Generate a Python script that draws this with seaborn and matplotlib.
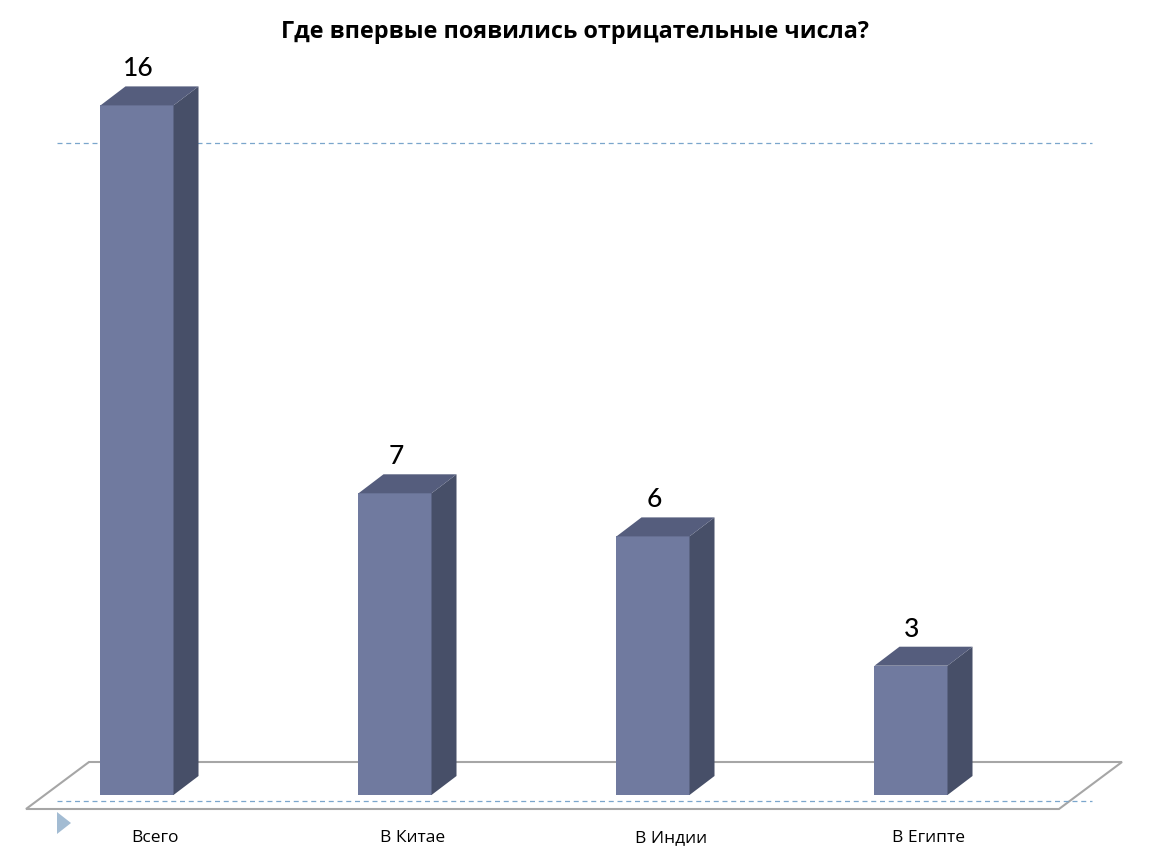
import matplotlib
matplotlib.use("Agg")
import matplotlib.pyplot as plt
import seaborn as sns
import pandas as pd
from matplotlib.patches import Polygon

categories = ["Всего", "В Китае", "В Индии", "В Египте"]
values = [16, 7, 6, 3]
title = "Где впервые появились отрицательные числа?"

FRONT = "#707a9f"
TOP = "#555d7d"
SIDE = "#474f68"

sns.set_theme(style="white")
plt.rcParams["font.family"] = ["Open Sans", "DejaVu Sans"]

fig = plt.figure(figsize=(11.5, 8.64), dpi=100)
ax = fig.add_axes([0, 0, 1, 1])

df = pd.DataFrame({"cat": categories, "val": values})
sns.barplot(data=df, x="cat", y="val", color=FRONT, saturation=1, width=0.283,
            ax=ax, zorder=3, linewidth=0)

PX_X = 258.0      # pixels per category step
PX_Y = 43.1       # pixels per value unit
ax.set_xlim(-137 / PX_X, (1150 - 137) / PX_X)
ax.set_ylim(-(864 - 795) / PX_Y, 795 / PX_Y)
ax.axis("off")

def px(xp, yp):
    return ((xp - 137) / PX_X, (795 - yp) / PX_Y)

# floor parallelogram
floor = [px(26, 809), px(89, 762), px(1122, 762), px(1059, 809)]
ax.add_patch(Polygon(floor, closed=True, fill=False, edgecolor="#a6a6a6",
                     linewidth=1.5, zorder=1))

# dashed gridlines
for yp in (143, 800.5):
    x0, y0 = px(57, yp)
    x1, _ = px(1092, yp)
    ax.plot([x0, x1], [y0, y0], linestyle=(0, (4, 3)), color="#7aa6cc",
            linewidth=0.9, zorder=2)

# 3D faces
dx = 25 / PX_X
dy = 19 / PX_Y
for p, v in zip(ax.patches[:len(values)], values):
    x = p.get_x(); w = p.get_width(); h = p.get_height()
    top = [(x, h), (x + dx, h + dy), (x + w + dx, h + dy), (x + w, h)]
    side = [(x + w, 0), (x + w, h), (x + w + dx, h + dy), (x + w + dx, dy)]
    ax.add_patch(Polygon(side, closed=True, facecolor=SIDE, edgecolor="none", zorder=3))
    ax.add_patch(Polygon(top, closed=True, facecolor=TOP, edgecolor="none", zorder=3))
    ax.text(x + w / 2 + 1 / PX_X, h + dy + 10 / PX_Y, f"{v}", ha="center", va="baseline",
            fontsize=19, family=["Lato", "DejaVu Sans"], fontweight="medium",
            color="black")

# category labels
for i, c in enumerate(categories):
    ax.text(i + 18 / PX_X, px(0, 838)[1], c, ha="center", va="center", fontsize=12.5,
            color="black")

# bullet triangle
tri = [px(57, 812), px(57, 834), px(71, 823)]
ax.add_patch(Polygon(tri, closed=True, facecolor="#a3bcd3", edgecolor="none", zorder=2))

fig.text(575 / 1150, 1 - 32 / 864, title, ha="center", va="center", fontsize=16.8,
         fontweight="bold", color="black")

fig.savefig("out.png", dpi=100)
